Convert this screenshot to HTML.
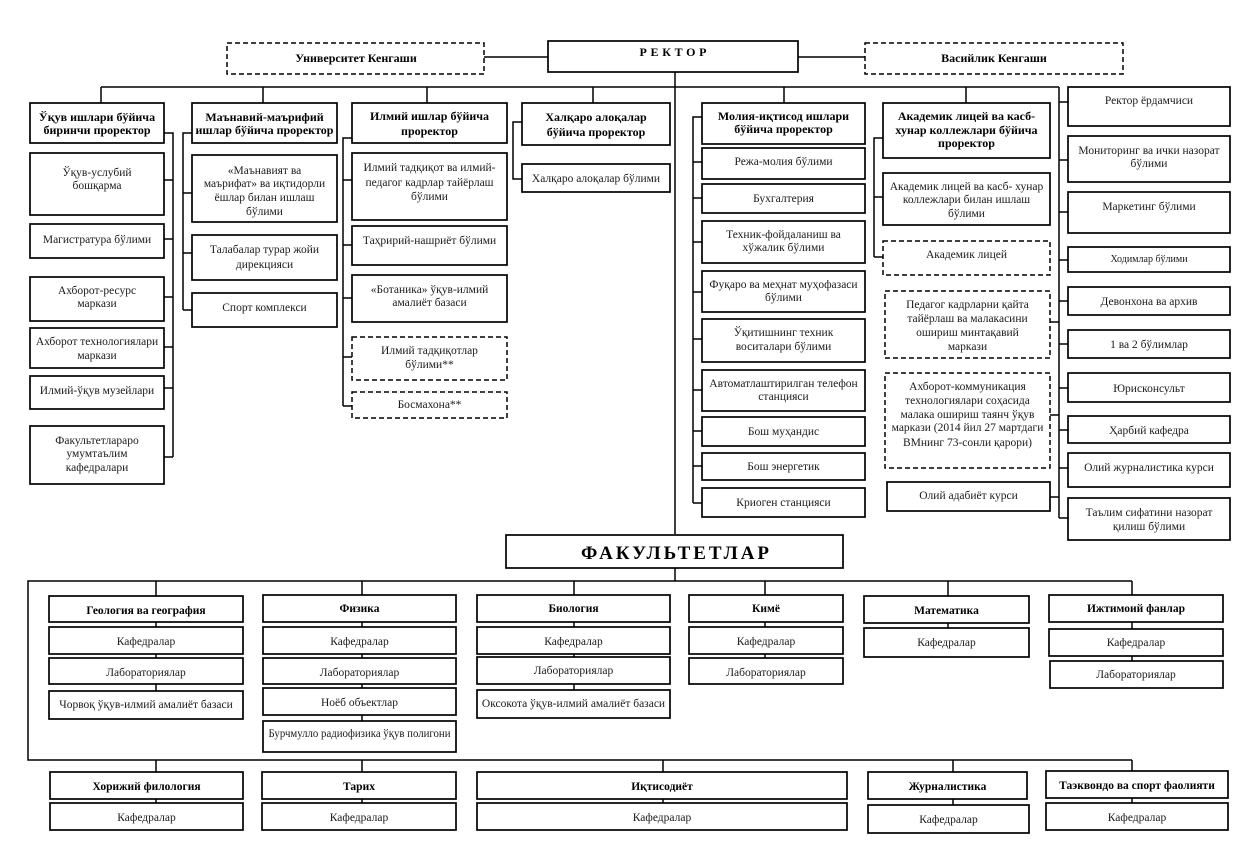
<!DOCTYPE html>
<html>
<head>
<meta charset="utf-8">
<style>
html,body{margin:0;padding:0;background:#fff;}
svg{display:block;}
.b{fill:#fff;stroke:#000;stroke-width:1.7;}
.d{fill:#fff;stroke:#000;stroke-width:1.5;stroke-dasharray:5 3;}
.l{stroke:#000;stroke-width:1.5;fill:none;}
text{font-family:"Liberation Serif","DejaVu Serif",serif;font-size:11.5px;text-anchor:middle;fill:#1a1a1a;}
.h{font-weight:bold;font-size:12px;fill:#000;}
.f{font-weight:bold;font-size:11.5px;fill:#000;}
.s{font-size:10px;}
</style>
</head>
<body>
<svg width="1254" height="849" viewBox="0 0 1254 849" xmlns="http://www.w3.org/2000/svg">
<rect x="0" y="0" width="1254" height="849" fill="#fff"/>
<!-- connectors -->
<path class="l" d="M484,57H548 M798,57H865 M675,72V534 M101,87H1059
M101,87V103 M263,87V103 M427,87V103 M593,87V103 M784,87V103 M966,87V103
M1059,87V518
M1059,102H1068 M1059,160H1068 M1059,212H1068 M1059,260H1068 M1059,301H1068 M1059,344H1068 M1059,388H1068 M1059,430H1068 M1059,468H1068 M1059,518H1068
M1050,322H1059 M1050,415H1059 M1050,497H1059
M164,133H173V457 M173,180H164 M173,239H164 M173,297H164 M173,347H164 M173,388H164 M173,457H164
M192,133H183V310 M183,193H192 M183,253H192 M183,310H192
M352,138H343V406 M343,180H352 M343,245H352 M343,298H352 M343,357H352 M343,406H352
M522,122H513V179H522
M702,117H693V503 M693,162H702 M693,198H702 M693,242H702 M693,292H702 M693,339H702 M693,390H702 M693,431H702 M693,466H702 M693,503H702
M883,138H874V257 M874,197H883 M874,257H883
M675,568V581
M1132,581H28V760H1132
M156,581V691 M362,581V721 M574,581V690 M765,581V658 M948,581V628 M1132,581V661
M156,760V803 M362,760V803 M663,760V803 M953,760V805 M1132,760V803"/>

<!-- top row -->
<rect class="d" x="227" y="43" width="257" height="31"/>
<text class="h" x="356" y="62">Университет Кенгаши</text>
<rect class="b" x="548" y="41" width="250" height="31"/>
<text class="h" x="673" y="56" textLength="67" lengthAdjust="spacing">РЕКТОР</text>
<rect class="d" x="865" y="43" width="258" height="31"/>
<text class="h" x="994" y="62">Васийлик Кенгаши</text>

<!-- Ўқув column -->
<rect class="b" x="30" y="103" width="134" height="40"/>
<text class="h" x="97" y="121">Ўқув ишлари бўйича</text>
<text class="h" x="97" y="134">биринчи проректор</text>
<rect class="b" x="30" y="153" width="134" height="62"/>
<text x="97" y="176">Ўқув-услубий</text>
<text x="97" y="189">бошқарма</text>
<rect class="b" x="30" y="224" width="134" height="34"/>
<text x="97" y="243">Магистратура бўлими</text>
<rect class="b" x="30" y="277" width="134" height="44"/>
<text x="97" y="294">Ахборот-ресурс</text>
<text x="97" y="307">маркази</text>
<rect class="b" x="30" y="328" width="134" height="40"/>
<text x="97" y="345">Ахборот технологиялари</text>
<text x="97" y="359">маркази</text>
<rect class="b" x="30" y="376" width="134" height="33"/>
<text x="97" y="394">Илмий-ўқув музейлари</text>
<rect class="b" x="30" y="426" width="134" height="58"/>
<text x="97" y="444">Факультетлараро</text>
<text x="97" y="457">умумтаълим</text>
<text x="97" y="471">кафедралари</text>

<!-- Маънавий column -->
<rect class="b" x="192" y="103" width="145" height="40"/>
<text class="h" x="264.5" y="121">Маънавий-маърифий</text>
<text class="h" x="264.5" y="134">ишлар бўйича проректор</text>
<rect class="b" x="192" y="155" width="145" height="67"/>
<text x="264.5" y="174">«Маънавият ва</text>
<text x="264.5" y="187">маърифат» ва иқтидорли</text>
<text x="264.5" y="201">ёшлар билан ишлаш</text>
<text x="264.5" y="215">бўлими</text>
<rect class="b" x="192" y="235" width="145" height="45"/>
<text x="264.5" y="253">Талабалар турар жойи</text>
<text x="264.5" y="268">дирекцияси</text>
<rect class="b" x="192" y="293" width="145" height="34"/>
<text x="264.5" y="311">Спорт комплекси</text>

<!-- Илмий column -->
<rect class="b" x="352" y="103" width="155" height="40"/>
<text class="h" x="429.5" y="120">Илмий ишлар бўйича</text>
<text class="h" x="429.5" y="135">проректор</text>
<rect class="b" x="352" y="153" width="155" height="67"/>
<text x="429.5" y="171">Илмий тадқиқот ва илмий-</text>
<text x="429.5" y="186">педагог кадрлар тайёрлаш</text>
<text x="429.5" y="200">бўлими</text>
<rect class="b" x="352" y="226" width="155" height="39"/>
<text x="429.5" y="244">Таҳририй-нашриёт бўлими</text>
<rect class="b" x="352" y="275" width="155" height="47"/>
<text x="429.5" y="293">«Ботаника» ўқув-илмий</text>
<text x="429.5" y="306">амалиёт базаси</text>
<rect class="d" x="352" y="337" width="155" height="43"/>
<text x="429.5" y="354">Илмий тадқиқотлар</text>
<text x="429.5" y="368">бўлими**</text>
<rect class="d" x="352" y="392" width="155" height="26"/>
<text x="429.5" y="408">Босмахона**</text>

<!-- Халқаро -->
<rect class="b" x="522" y="103" width="148" height="42"/>
<text class="h" x="596" y="121">Халқаро алоқалар</text>
<text class="h" x="596" y="136">бўйича проректор</text>
<rect class="b" x="522" y="164" width="148" height="28"/>
<text x="596" y="182">Халқаро алоқалар бўлими</text>

<!-- Молия column -->
<rect class="b" x="702" y="103" width="163" height="41"/>
<text class="h" x="783.5" y="120">Молия-иқтисод ишлари</text>
<text class="h" x="783.5" y="133">бўйича проректор</text>
<rect class="b" x="702" y="148" width="163" height="31"/>
<text x="783.5" y="165">Режа-молия бўлими</text>
<rect class="b" x="702" y="184" width="163" height="29"/>
<text x="783.5" y="202">Бухгалтерия</text>
<rect class="b" x="702" y="221" width="163" height="42"/>
<text x="783.5" y="238">Техник-фойдаланиш ва</text>
<text x="783.5" y="251">хўжалик бўлими</text>
<rect class="b" x="702" y="271" width="163" height="41"/>
<text x="783.5" y="288">Фуқаро ва меҳнат муҳофазаси</text>
<text x="783.5" y="301">бўлими</text>
<rect class="b" x="702" y="319" width="163" height="43"/>
<text x="783.5" y="336">Ўқитишнинг техник</text>
<text x="783.5" y="350">воситалари бўлими</text>
<rect class="b" x="702" y="370" width="163" height="41"/>
<text x="783.5" y="387">Автоматлаштирилган телефон</text>
<text x="783.5" y="400">станцияси</text>
<rect class="b" x="702" y="417" width="163" height="29"/>
<text x="783.5" y="435">Бош муҳандис</text>
<rect class="b" x="702" y="453" width="163" height="27"/>
<text x="783.5" y="470">Бош энергетик</text>
<rect class="b" x="702" y="488" width="163" height="29"/>
<text x="783.5" y="506">Криоген станцияси</text>

<!-- Академик column -->
<rect class="b" x="883" y="103" width="167" height="55"/>
<text class="h" x="966.5" y="120">Академик лицей ва касб-</text>
<text class="h" x="966.5" y="134">хунар коллежлари бўйича</text>
<text class="h" x="966.5" y="147">проректор</text>
<rect class="b" x="883" y="173" width="167" height="52"/>
<text x="966.5" y="190">Академик лицей ва касб- хунар</text>
<text x="966.5" y="203">коллежлари билан ишлаш</text>
<text x="966.5" y="217">бўлими</text>
<rect class="d" x="883" y="241" width="167" height="34"/>
<text x="966.5" y="258">Академик лицей</text>
<rect class="d" x="885" y="291" width="165" height="67"/>
<text x="967.5" y="308">Педагог кадрларни қайта</text>
<text x="967.5" y="322">тайёрлаш ва малакасини</text>
<text x="967.5" y="336">ошириш минтақавий</text>
<text x="967.5" y="350">маркази</text>
<rect class="d" x="885" y="373" width="165" height="95"/>
<text x="967.5" y="390">Ахборот-коммуникация</text>
<text x="967.5" y="404">технологиялари соҳасида</text>
<text x="967.5" y="418">малака ошириш таянч ўқув</text>
<text x="967.5" y="431">маркази (2014 йил 27 мартдаги</text>
<text x="967.5" y="446">ВМнинг 73-сонли қарори)</text>
<rect class="b" x="887" y="482" width="163" height="29"/>
<text x="968.5" y="499">Олий адабиёт курси</text>

<!-- Right column -->
<rect class="b" x="1068" y="87" width="162" height="39"/>
<text x="1149" y="104">Ректор ёрдамчиси</text>
<rect class="b" x="1068" y="136" width="162" height="46"/>
<text x="1149" y="154">Мониторинг ва ички назорат</text>
<text x="1149" y="167">бўлими</text>
<rect class="b" x="1068" y="192" width="162" height="41"/>
<text x="1149" y="210">Маркетинг бўлими</text>
<rect class="b" x="1068" y="247" width="162" height="25"/>
<text class="s" x="1149" y="262">Ходимлар бўлими</text>
<rect class="b" x="1068" y="287" width="162" height="28"/>
<text x="1149" y="305">Девонхона ва архив</text>
<rect class="b" x="1068" y="330" width="162" height="28"/>
<text x="1149" y="348">1 ва 2 бўлимлар</text>
<rect class="b" x="1068" y="373" width="162" height="29"/>
<text x="1149" y="392">Юрисконсульт</text>
<rect class="b" x="1068" y="416" width="162" height="27"/>
<text x="1149" y="434">Ҳарбий кафедра</text>
<rect class="b" x="1068" y="453" width="162" height="34"/>
<text x="1149" y="471">Олий журналистика курси</text>
<rect class="b" x="1068" y="498" width="162" height="42"/>
<text x="1149" y="516">Таълим сифатини назорат</text>
<text x="1149" y="530">қилиш бўлими</text>

<!-- ФАКУЛЬТЕТЛАР -->
<rect class="b" x="506" y="535" width="337" height="33"/>
<text x="675" y="559" style="font-weight:bold;font-size:19px;fill:#000" textLength="188" lengthAdjust="spacing">ФАКУЛЬТЕТЛАР</text>

<!-- Faculties row 1 -->
<rect class="b" x="49" y="596" width="194" height="26"/>
<text class="f" x="146" y="614">Геология ва география</text>
<rect class="b" x="49" y="627" width="194" height="27"/>
<text x="146" y="645">Кафедралар</text>
<rect class="b" x="49" y="658" width="194" height="26"/>
<text x="146" y="676">Лабораториялар</text>
<rect class="b" x="49" y="691" width="194" height="28"/>
<text x="146" y="708">Чорвоқ ўқув-илмий амалиёт базаси</text>

<rect class="b" x="263" y="595" width="193" height="27"/>
<text class="f" x="359.5" y="612">Физика</text>
<rect class="b" x="263" y="627" width="193" height="27"/>
<text x="359.5" y="645">Кафедралар</text>
<rect class="b" x="263" y="658" width="193" height="26"/>
<text x="359.5" y="676">Лабораториялар</text>
<rect class="b" x="263" y="688" width="193" height="27"/>
<text x="359.5" y="706">Ноёб объектлар</text>
<rect class="b" x="263" y="721" width="193" height="31"/>
<text x="359.5" y="737" textLength="182" lengthAdjust="spacingAndGlyphs">Бурчмулло радиофизика ўқув полигони</text>

<rect class="b" x="477" y="595" width="193" height="27"/>
<text class="f" x="573.5" y="612">Биология</text>
<rect class="b" x="477" y="627" width="193" height="27"/>
<text x="573.5" y="645">Кафедралар</text>
<rect class="b" x="477" y="657" width="193" height="27"/>
<text x="573.5" y="674">Лабораториялар</text>
<rect class="b" x="477" y="690" width="193" height="28"/>
<text x="573.5" y="707">Оксокота ўқув-илмий амалиёт базаси</text>

<rect class="b" x="689" y="595" width="154" height="27"/>
<text class="f" x="766" y="612">Кимё</text>
<rect class="b" x="689" y="627" width="154" height="27"/>
<text x="766" y="645">Кафедралар</text>
<rect class="b" x="689" y="658" width="154" height="26"/>
<text x="766" y="676">Лабораториялар</text>

<rect class="b" x="864" y="596" width="165" height="27"/>
<text class="f" x="946.5" y="614">Математика</text>
<rect class="b" x="864" y="628" width="165" height="29"/>
<text x="946.5" y="646">Кафедралар</text>

<rect class="b" x="1049" y="595" width="174" height="27"/>
<text class="f" x="1136" y="612">Ижтимоий фанлар</text>
<rect class="b" x="1049" y="629" width="174" height="27"/>
<text x="1136" y="646">Кафедралар</text>
<rect class="b" x="1050" y="661" width="173" height="27"/>
<text x="1136" y="678">Лабораториялар</text>

<!-- Faculties row 2 -->
<rect class="b" x="50" y="772" width="193" height="27"/>
<text class="f" x="146.5" y="790">Хорижий филология</text>
<rect class="b" x="50" y="803" width="193" height="27"/>
<text x="146.5" y="821">Кафедралар</text>

<rect class="b" x="262" y="772" width="194" height="27"/>
<text class="f" x="359" y="790">Тарих</text>
<rect class="b" x="262" y="803" width="194" height="27"/>
<text x="359" y="821">Кафедралар</text>

<rect class="b" x="477" y="772" width="370" height="27"/>
<text class="f" x="662" y="790">Иқтисодиёт</text>
<rect class="b" x="477" y="803" width="370" height="27"/>
<text x="662" y="821">Кафедралар</text>

<rect class="b" x="868" y="772" width="159" height="27"/>
<text class="f" x="947.5" y="790">Журналистика</text>
<rect class="b" x="868" y="805" width="161" height="28"/>
<text x="948.5" y="823">Кафедралар</text>

<rect class="b" x="1046" y="771" width="182" height="27"/>
<text class="f" x="1137" y="789">Таэквондо ва спорт фаолияти</text>
<rect class="b" x="1046" y="803" width="182" height="27"/>
<text x="1137" y="821">Кафедралар</text>
</svg>
</body>
</html>
